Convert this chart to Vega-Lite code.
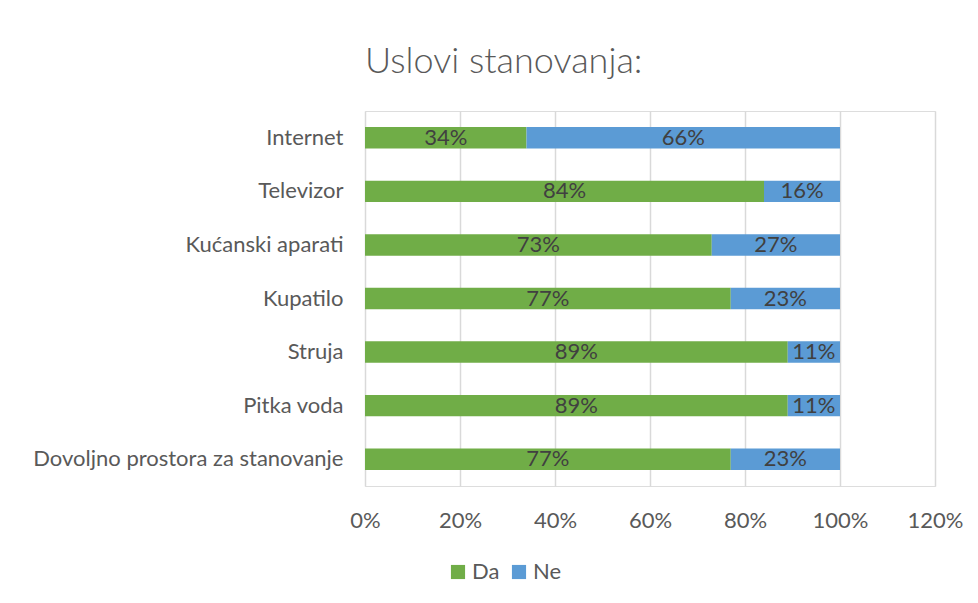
{
  "$schema": "https://vega.github.io/schema/vega-lite/v6.json",
  "width": 570,
  "height": 375,
  "autosize": {"type": "none"},
  "padding": {"left": 365, "top": 111, "right": 43, "bottom": 117},
  "background": "white",
  "title": {
    "text": "Uslovi stanovanja:",
    "anchor": "start",
    "frame": "group",
    "fontSize": 36,
    "font": "Lato",
    "fontWeight": 300,
    "color": "#595959",
    "offset": 30
  },
  "data": {
    "values": [
      {"cat": "Internet", "resp": "Da", "value": 0.34, "label": "34%"},
      {"cat": "Internet", "resp": "Ne", "value": 0.66, "label": "66%"},
      {"cat": "Televizor", "resp": "Da", "value": 0.84, "label": "84%"},
      {"cat": "Televizor", "resp": "Ne", "value": 0.16, "label": "16%"},
      {"cat": "Kućanski aparati", "resp": "Da", "value": 0.73, "label": "73%"},
      {"cat": "Kućanski aparati", "resp": "Ne", "value": 0.27, "label": "27%"},
      {"cat": "Kupatilo", "resp": "Da", "value": 0.77, "label": "77%"},
      {"cat": "Kupatilo", "resp": "Ne", "value": 0.23, "label": "23%"},
      {"cat": "Struja", "resp": "Da", "value": 0.89, "label": "89%"},
      {"cat": "Struja", "resp": "Ne", "value": 0.11, "label": "11%"},
      {"cat": "Pitka voda", "resp": "Da", "value": 0.89, "label": "89%"},
      {"cat": "Pitka voda", "resp": "Ne", "value": 0.11, "label": "11%"},
      {"cat": "Dovoljno prostora za stanovanje", "resp": "Da", "value": 0.77, "label": "77%"},
      {"cat": "Dovoljno prostora za stanovanje", "resp": "Ne", "value": 0.23, "label": "23%"}
    ]
  },
  "transform": [
    {"stack": "value", "groupby": ["cat"], "sort": [{"field": "resp", "order": "ascending"}], "as": ["x0", "x1"]}
  ],
  "encoding": {
    "y": {
      "field": "cat",
      "type": "nominal",
      "sort": null,
      "scale": {"paddingInner": 0.6, "paddingOuter": 0.3},
      "axis": {
        "title": null,
        "domain": false,
        "ticks": false,
        "labelFont": "Lato",
        "labelFontSize": 22,
        "labelColor": "#595959",
        "labelPadding": 22,
        "labelLimit": 400
      }
    }
  },
  "layer": [
    {
      "mark": {"type": "bar"},
      "encoding": {
        "x": {
          "field": "x0",
          "type": "quantitative",
          "scale": {"domain": [0, 1.2], "nice": false},
          "axis": {
            "title": null,
            "values": [0, 0.2, 0.4, 0.6, 0.8, 1.0, 1.2],
            "format": ".0%",
            "domain": false,
            "ticks": false,
            "grid": true,
            "gridColor": "#d9d9d9",
            "gridWidth": 1.5,
            "labelFlush": false,
            "labelFont": "Lato",
            "labelFontSize": 22,
            "labelColor": "#595959",
            "labelPadding": 24
          }
        },
        "x2": {"field": "x1"},
        "color": {
          "field": "resp",
          "type": "nominal",
          "scale": {"domain": ["Da", "Ne"], "range": ["#70AD47", "#5B9BD5"]},
          "legend": {
            "title": null,
            "orient": "none",
            "legendX": 82,
            "legendY": 450,
            "direction": "horizontal",
            "symbolType": "square",
            "symbolSize": 200,
            "symbolStrokeWidth": 0,
            "labelFont": "Lato",
            "labelFontSize": 22,
            "labelColor": "#595959",
            "columnPadding": 8,
            "labelOffset": 3
          }
        }
      }
    },
    {
      "transform": [
        {"fold": ["x0", "x1"], "as": ["edge", "pos"]},
        {"aggregate": [{"op": "mean", "field": "pos", "as": "mid"}], "groupby": ["cat", "resp", "label"]}
      ],
      "mark": {"type": "text", "font": "Lato", "fontSize": 22, "color": "#404040", "baseline": "middle", "align": "center"},
      "encoding": {
        "x": {"field": "mid", "type": "quantitative"},
        "text": {"field": "label"}
      }
    }
  ]
}
